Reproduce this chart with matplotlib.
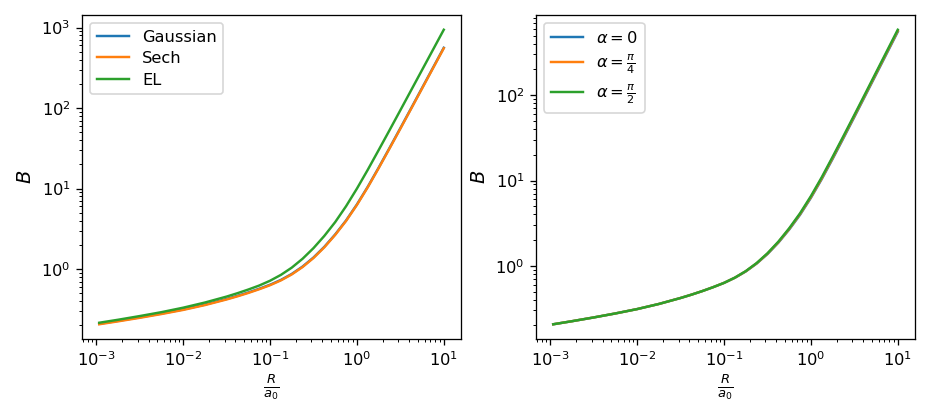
import matplotlib
matplotlib.use("Agg")
import matplotlib.pyplot as plt

# R / a0 sample points
r = [0.00108, 0.001778, 0.003162, 0.005623, 0.01, 0.01778, 0.03162, 0.04217, 0.05623,
     0.07499, 0.1, 0.1334, 0.1778, 0.2371, 0.3162, 0.4217, 0.5623, 0.7499, 1.0,
     1.334, 1.778, 2.371, 3.162, 4.217, 5.623, 7.499, 10.0]

# left panel: profile comparison
b_gaussian = [0.2094, 0.2275, 0.2518, 0.2806, 0.3156, 0.3623, 0.4257, 0.4656, 0.5129,
              0.5702, 0.6398, 0.7345, 0.8710, 1.077, 1.393, 1.892, 2.698, 4.018, 6.354,
              10.55, 18.16, 31.85, 56.24, 99.8, 177.5, 315.6, 561.1]
b_sech = [0.2065, 0.2244, 0.2483, 0.2767, 0.3112, 0.3573, 0.4198, 0.4592, 0.5058,
          0.5623, 0.6310, 0.7244, 0.8590, 1.062, 1.374, 1.866, 2.661, 3.963, 6.266,
          10.40, 17.91, 31.41, 55.46, 98.4, 175.0, 311.2, 553.4]
b_el = [0.2158, 0.2350, 0.2612, 0.2921, 0.3319, 0.3846, 0.4560, 0.5023, 0.5578,
        0.6252, 0.7170, 0.8483, 1.043, 1.346, 1.822, 2.585, 3.837, 6.039, 9.989,
        17.14, 30.03, 52.97, 93.97, 167.1, 297.2, 528.4, 939.8]

# right panel: angle comparison
b_alpha0 = [0.2065, 0.2244, 0.2483, 0.2767, 0.3112, 0.3573, 0.4198, 0.4592, 0.5058,
            0.5623, 0.6310, 0.7244, 0.8590, 1.062, 1.374, 1.866, 2.661, 3.963, 6.266,
            10.40, 17.91, 31.41, 55.46, 98.4, 175.0, 311.2, 553.4]
b_alpha_pi4 = [0.2065, 0.2244, 0.2483, 0.2767, 0.3112, 0.3573, 0.4198, 0.4592, 0.5058,
               0.5623, 0.6310, 0.7261, 0.8630, 1.069, 1.388, 1.892, 2.707, 4.046, 6.397,
               10.64, 18.41, 32.29, 57.01, 101.2, 179.9, 319.9, 568.9]
b_alpha_pi2 = [0.2065, 0.2244, 0.2483, 0.2767, 0.3112, 0.3573, 0.4198, 0.4592, 0.5058,
               0.5623, 0.6310, 0.7277, 0.8670, 1.077, 1.403, 1.918, 2.754, 4.129, 6.561,
               10.94, 18.93, 33.20, 58.62, 104.0, 185.0, 328.9, 585.0]

left_series = [("Gaussian", b_gaussian), ("Sech", b_sech), ("EL", b_el)]
right_series = [(r"$\alpha=0$", b_alpha0), (r"$\alpha=\frac{\pi}{4}$", b_alpha_pi4),
                (r"$\alpha=\frac{\pi}{2}$", b_alpha_pi2)]

# default matplotlib sizes, drawn a bit larger than 100 dpi
DPI = 117
W, H = 926, 404
fig = plt.figure(figsize=(W / DPI, H / DPI), dpi=DPI)
ax1 = fig.add_axes([82 / W, (H - 339) / H, 379 / W, 324 / H])
ax2 = fig.add_axes([536 / W, (H - 339) / H, 379 / W, 324 / H])

for ax, series in [(ax1, left_series), (ax2, right_series)]:
    for label, vals in series:
        ax.plot(r, vals, label=label)
    ax.set_xscale("log")
    ax.set_yscale("log")
    ax.set_xlabel(r"$\frac{R}{a_0}$", fontsize=11.5, labelpad=2)
    ax.set_ylabel(r"$B$", fontsize=12)
    ax.legend(loc="upper left", labelspacing=0.4)

fig.savefig("out.png", dpi=DPI)
